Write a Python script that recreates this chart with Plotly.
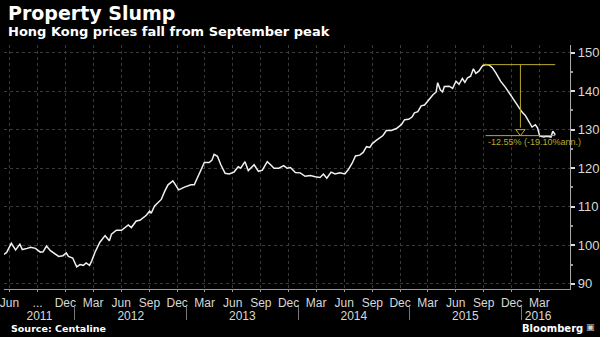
import pandas as pd
import plotly.graph_objects as go

# ---------------- data (Centa-City index) ----------------
dates = [
    "2011-05-14", "2011-05-23", "2011-06-07", "2011-06-21", "2011-07-05", "2011-07-13",
    "2011-07-29", "2011-08-09", "2011-08-25", "2011-09-10", "2011-09-19", "2011-09-30",
    "2011-10-13", "2011-10-29", "2011-11-09", "2011-11-23", "2011-12-04", "2011-12-11",
    "2011-12-25", "2012-01-07", "2012-01-18", "2012-01-29", "2012-02-07", "2012-02-18",
    "2012-02-25", "2012-03-07", "2012-03-23", "2012-04-09", "2012-04-23", "2012-04-30",
    "2012-05-16", "2012-06-02", "2012-06-13", "2012-06-24", "2012-07-04", "2012-07-20",
    "2012-08-01", "2012-08-11", "2012-08-22", "2012-09-02", "2012-09-07", "2012-09-18",
    "2012-09-29", "2012-10-10", "2012-10-21", "2012-11-01", "2012-11-17", "2012-12-06",
    "2012-12-25", "2013-01-05", "2013-01-15", "2013-01-26", "2013-02-12", "2013-02-28",
    "2013-03-16", "2013-03-25", "2013-04-01", "2013-04-12", "2013-04-23", "2013-05-07",
    "2013-05-20", "2013-06-05", "2013-06-19", "2013-06-27", "2013-07-11", "2013-07-22",
    "2013-08-10", "2013-08-24", "2013-09-06", "2013-09-22", "2013-10-03", "2013-10-14",
    "2013-10-30", "2013-11-15", "2013-11-26", "2013-12-07", "2013-12-23", "2014-01-08",
    "2014-01-24", "2014-02-10", "2014-02-26", "2014-03-14", "2014-03-25", "2014-04-05",
    "2014-04-19", "2014-05-02", "2014-05-18", "2014-06-03", "2014-06-14", "2014-06-27",
    "2014-07-08", "2014-07-22", "2014-08-02", "2014-08-13", "2014-08-24", "2014-09-01",
    "2014-09-15", "2014-09-25", "2014-10-06", "2014-10-17", "2014-11-02", "2014-11-19",
    "2014-12-05", "2014-12-16", "2014-12-29", "2015-01-09", "2015-01-17", "2015-01-28",
    "2015-02-08", "2015-02-19", "2015-03-02", "2015-03-18", "2015-03-29", "2015-04-03",
    "2015-04-12", "2015-04-19", "2015-04-25", "2015-05-11", "2015-05-22", "2015-06-02",
    "2015-06-12", "2015-06-23", "2015-07-01", "2015-07-10", "2015-07-20", "2015-07-29",
    "2015-08-06", "2015-08-16", "2015-08-27", "2015-09-07", "2015-09-18", "2015-09-29",
    "2015-10-10", "2015-10-26", "2015-11-11", "2015-11-28", "2015-12-14", "2015-12-25",
    "2016-01-05", "2016-01-15", "2016-01-26", "2016-02-06", "2016-02-17", "2016-02-24",
    "2016-03-02", "2016-03-15", "2016-03-26", "2016-04-08", "2016-04-14", "2016-04-22",
]
values = [
    97.6, 98.2, 100.5, 98.8, 100.3, 98.9,
    99.2, 99.5, 99.2, 98.2, 98.3, 99.8,
    98.6, 97.8, 97.1, 97.3, 98.0, 97.1,
    96.7, 94.4, 95.0, 94.8, 95.4, 94.8,
    95.9, 98.2, 100.8, 102.5, 101.2, 102.9,
    103.9, 103.9, 104.6, 105.3, 104.6, 106.3,
    106.5, 107.2, 107.8, 108.9, 108.3, 110.2,
    111.0, 111.9, 114.0, 115.7, 116.7, 114.4,
    115.1, 115.4, 115.7, 115.7, 118.7, 121.5,
    121.5, 122.1, 123.6, 123.1, 120.9, 118.7,
    118.5, 119.0, 120.4, 120.0, 121.7, 119.4,
    120.9, 119.2, 119.5, 121.7, 120.9, 120.0,
    120.0, 120.7, 120.0, 120.2, 118.9, 118.8,
    117.9, 118.1, 117.8, 117.6, 118.5, 117.4,
    119.0, 118.5, 118.8, 118.5, 119.6, 121.3,
    123.2, 123.4, 124.1, 125.6, 125.4, 126.4,
    127.3, 127.9, 128.5, 129.8, 129.8, 130.3,
    131.3, 132.6, 132.7, 133.3, 134.4, 134.7,
    136.2, 136.4, 137.5, 139.0, 139.8, 142.2,
    140.3, 139.8, 141.2, 141.3, 140.7, 142.6,
    141.8, 143.3, 142.3, 143.5, 143.9, 145.8,
    144.6, 145.2, 146.5, 146.9, 146.8, 146.1,
    144.8, 142.6, 141.0, 138.8, 137.1, 135.8,
    134.5, 133.7, 132.0, 130.7, 131.3, 130.5,
    128.4, 128.1, 128.3, 128.1, 129.6, 128.7,
]

month_tick_dates = [
    "2011-06-01", "2011-09-01", "2011-12-01", "2012-03-01", "2012-06-01", "2012-09-01",
    "2012-12-01", "2013-03-01", "2013-06-01", "2013-09-01", "2013-12-01", "2014-03-01",
    "2014-06-01", "2014-09-01", "2014-12-01", "2015-03-01", "2015-06-01", "2015-09-01",
    "2015-12-01", "2016-03-01",
]
month_tick_labels = [
    "Jun", "...", "Dec", "Mar", "Jun", "Sep",
    "Dec", "Mar", "Jun", "Sep", "Dec", "Mar",
    "Jun", "Sep", "Dec", "Mar", "Jun", "Sep",
    "Dec", "Mar",
]
years = [2011, 2012, 2013, 2014, 2015, 2016]
y_tick_values = [90, 100, 110, 120, 130, 140, 150]

drop_label = "-12.55% (-19.10%ann.)"
drop_pct = -12.55

title_text = "Property Slump"
subtitle_text = "Hong Kong prices fall from September peak"
source_text = "Source: Centaline"
brand_text = "Bloomberg"

# ---------------- derived ----------------
d = pd.to_datetime(pd.Series(dates))
first, last = d.iloc[0], d.iloc[-1]
x_range = ["2011-05-14", "2016-06-10"]
y_range = [88.58, 152.06]

year_starts = [pd.Timestamp(f"{y}-01-01") for y in years[1:]]
year_centers = []
for y in years:
    a = max(pd.Timestamp(f"{y}-01-01"), first)
    b = min(pd.Timestamp(f"{y + 1}-01-01"), last)
    year_centers.append(a + (b - a) / 2)

peak_i = max(range(len(values)), key=lambda i: values[i])
peak_date, peak_val = d.iloc[peak_i], values[peak_i]
low_val = peak_val * (1 + drop_pct / 100)
mid_date = peak_date + (last - peak_date) / 2

YELLOW = "#b9a92c"
NARROW = "Liberation Sans Narrow, Arial Narrow, Liberation Sans, Arial, sans-serif"
BOLD = "DejaVu Sans, Verdana, sans-serif"

plot_h_px = 246.0
unit_px = plot_h_px / (y_range[1] - y_range[0])
tri_off = 4.0 / unit_px

fig = go.Figure()
fig.add_trace(go.Scatter(
    x=d, y=values, mode="lines",
    line=dict(color="#f0f0f0", width=1.5),
    hoverinfo="skip", showlegend=False,
))
fig.add_trace(go.Scatter(
    x=[mid_date], y=[low_val + tri_off], mode="markers",
    marker=dict(symbol="triangle-down-open", size=8, color=YELLOW, line=dict(width=1, color=YELLOW)),
    hoverinfo="skip", showlegend=False,
))
# invisible traces that activate the year-label and year-separator axes
for ax in ("x2", "x3"):
    fig.add_trace(go.Scatter(
        x=[first], y=[values[0]], xaxis=ax, mode="markers",
        marker=dict(opacity=0), hoverinfo="skip", showlegend=False,
    ))

shapes = [
    dict(type="line", xref="x", yref="y", x0=peak_date - pd.Timedelta(days=10), x1=last,
         y0=peak_val, y1=peak_val, line=dict(color=YELLOW, width=1)),
    dict(type="line", xref="x", yref="y", x0=mid_date, x1=mid_date,
         y0=peak_val, y1=low_val + 2 * tri_off, line=dict(color=YELLOW, width=1)),
    dict(type="line", xref="x", yref="y", x0=peak_date, x1=last,
         y0=low_val, y1=low_val, line=dict(color=YELLOW, width=1)),
]

annotations = [
    dict(xref="paper", yref="paper", x=0.003, y=1.0, xanchor="left", yanchor="top",
         text=f"<b>{title_text}</b>", showarrow=False,
         font=dict(family=BOLD, size=19, color="#ffffff")),
    dict(xref="paper", yref="paper", x=0.003, y=1 - 22 / 337, xanchor="left", yanchor="top",
         text=f"<b>{subtitle_text}</b>", showarrow=False,
         font=dict(family=BOLD, size=13, color="#ffffff")),
    dict(xref="paper", yref="paper", x=0.008, y=1 - 330 / 337, xanchor="left", yanchor="middle",
         text=f"<b>{source_text}</b>", showarrow=False,
         font=dict(family=BOLD, size=9.5, color="#ffffff")),
    dict(xref="paper", yref="paper", x=0.975, y=1 - 330 / 337, xanchor="right", yanchor="middle",
         text=f"<b>{brand_text}</b>", showarrow=False,
         font=dict(family=BOLD, size=10, color="#ffffff")),
    dict(xref="paper", yref="paper", x=0.995, y=1 - 329 / 337, xanchor="right", yanchor="middle",
         text="▣", showarrow=False,
         font=dict(family=BOLD, size=9, color="#d0d0d0")),
    dict(xref="x", yref="y", x=peak_date, y=low_val, xanchor="left", yanchor="top",
         text=drop_label, showarrow=False, yshift=1,
         font=dict(family=NARROW, size=9, color=YELLOW)),
]

tick_font = dict(family=NARROW, size=12, color="#d8d8d8")

fig.update_layout(
    width=600, height=337,
    margin=dict(l=0, r=0, t=0, b=0),
    paper_bgcolor="#000000", plot_bgcolor="#000000",
    showlegend=False,
    shapes=shapes, annotations=annotations,
    xaxis=dict(
        type="date", domain=[0, 0.95], range=x_range, anchor="y",
        tickmode="array", tickvals=month_tick_dates, ticktext=month_tick_labels,
        showgrid=True, gridcolor="#3a3a3a", griddash="dot", gridwidth=1,
        ticks="outside", ticklen=2, tickcolor="#999999",
        showline=True, linecolor="#9a9a9a", linewidth=1, zeroline=False,
        ticklabeloverflow="allow",
        tickfont=tick_font,
    ),
    xaxis2=dict(
        type="date", domain=[0, 0.95], range=x_range, overlaying="x",
        anchor="free", position=1 - 309 / 337, side="bottom",
        tickmode="array", tickvals=year_centers, ticktext=[str(y) for y in years],
        ticks="", showgrid=False, showline=False, zeroline=False,
        ticklabeloverflow="allow",
        tickfont=tick_font,
    ),
    xaxis3=dict(
        type="date", domain=[0, 0.95], range=x_range, overlaying="x",
        anchor="free", position=1 - 322 / 337, side="bottom",
        tickmode="array", tickvals=year_starts, showticklabels=False,
        ticks="inside", ticklen=14, tickcolor="#777777", tickwidth=1,
        showgrid=False, showline=False, zeroline=False,
    ),
    yaxis=dict(
        domain=[1 - 291 / 337, 1 - 45 / 337], range=y_range, side="right", anchor="x",
        tickmode="array", tickvals=y_tick_values,
        showgrid=True, gridcolor="#3a3a3a", griddash="dot", gridwidth=1,
        ticks="outside", ticklen=4, tickwidth=1.5, tickcolor="#dddddd",
        minor=dict(dtick=5, ticks="outside", ticklen=2, tickcolor="#999999", showgrid=False),
        showline=True, linecolor="#aaaaaa", linewidth=1, zeroline=False,
        tickfont=dict(family=NARROW, size=13, color="#d8d8d8"),
    ),
)

fig.write_html("out.html")
